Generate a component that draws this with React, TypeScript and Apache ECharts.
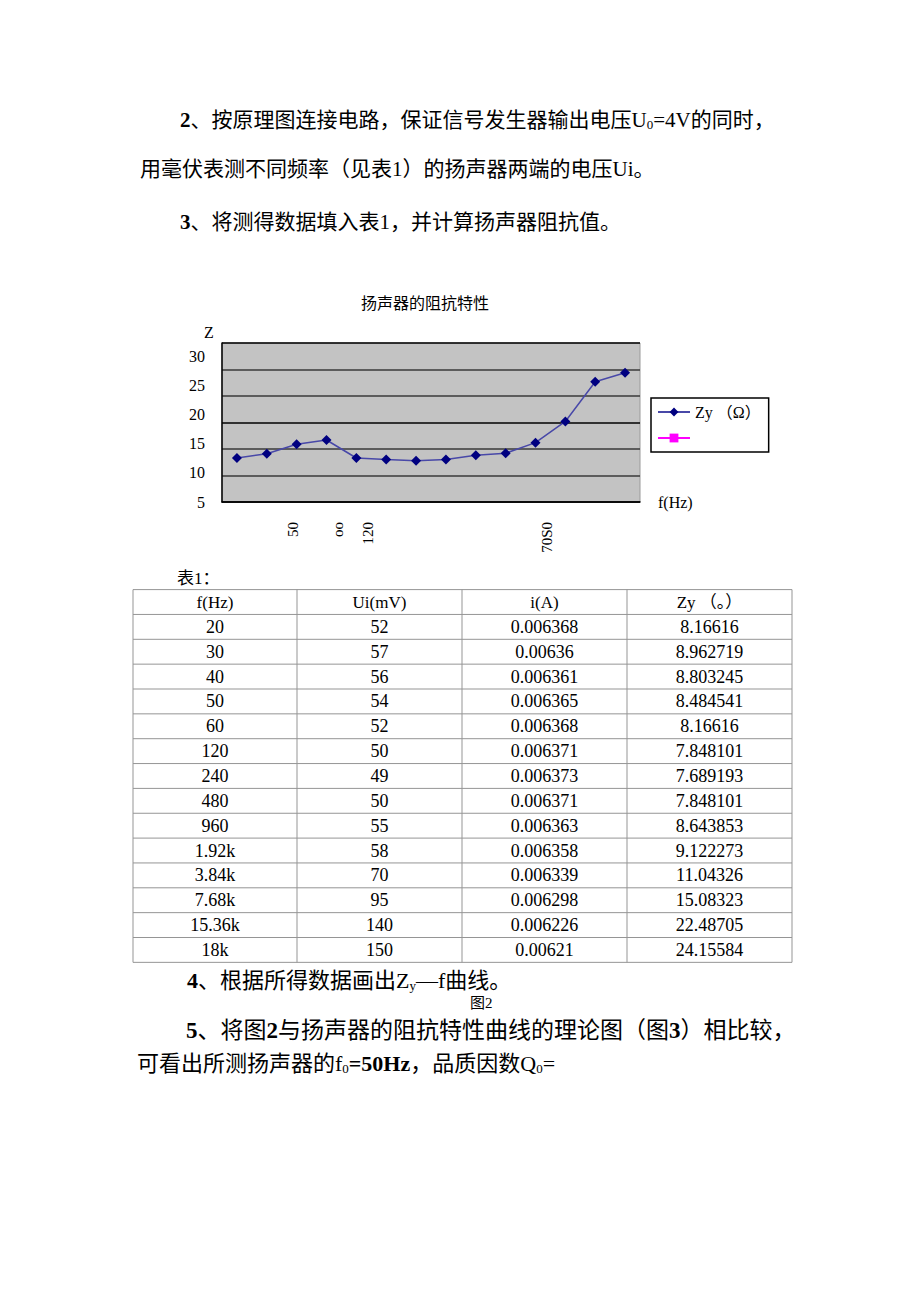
import React, { useEffect, useRef } from "react";
import * as echarts from "echarts";

// ---------- data ----------
const chartTitle = "扬声器的阻抗特性";
const categories = ["20", "30", "40", "50", "60", "120", "240", "480", "960", "1.92k", "3.84k", "7.68k", "15.36k", "18k"];
const zValues = [13.3, 14.1, 15.9, 16.7, 13.3, 13.0, 12.8, 13.0, 13.8, 14.2, 16.2, 20.2, 27.7, 29.4];
const seriesName = "Zy （Ω）";
const emptySeriesName = " ";
// garbled rotated tick labels as they appear on the page
const xTickText = ["50", "oo", "120", "70S0"];
const xTickSlot = [9, 15, 19, 43]; // quarter-category slots
const xSlotCount = 56;

const tableHeader = ["f(Hz)", "Ui(mV)", "i(A)", "Zy （。）"];
const tFreq = ["20", "30", "40", "50", "60", "120", "240", "480", "960", "1.92k", "3.84k", "7.68k", "15.36k", "18k"];
const tUi = ["52", "57", "56", "54", "52", "50", "49", "50", "55", "58", "70", "95", "140", "150"];
const tI = ["0.006368", "0.00636", "0.006361", "0.006365", "0.006368", "0.006371", "0.006373", "0.006371", "0.006363", "0.006358", "0.006339", "0.006298", "0.006226", "0.00621"];
const tZy = ["8.16616", "8.962719", "8.803245", "8.484541", "8.16616", "7.848101", "7.689193", "7.848101", "8.643853", "9.122273", "11.04326", "15.08323", "22.48705", "24.15584"];

const serif = "'Liberation Serif','Noto Sans CJK SC',serif";
const cjk = "'Noto Sans CJK SC','Liberation Serif',sans-serif";

function txt(x: number, y: number, text: string, size: number, extra: any = {}) {
  return {
    type: "text",
    x,
    y,
    silent: true,
    style: {
      text,
      fill: "#000",
      fontSize: size,
      fontFamily: serif,
      align: extra.align || "left",
      textAlign: extra.align || "left",
      verticalAlign: "middle",
      textVerticalAlign: "middle",
      rich: {
        sub: { fontSize: Math.round(size * 0.6), fontFamily: serif, fill: "#000", padding: [Math.round(size * 0.45), 0, 0, 0] },
        b: { fontSize: size, fontFamily: serif, fontWeight: "bold", fill: "#000" },
      },
    },
  };
}

function buildGraphics() {
  const g: any[] = [];
  g.push(txt(180, 120, "{b|2}、按原理图连接电路，保证信号发生器输出电压U{sub|0}=4V的同时，", 21));
  g.push(txt(140, 169, "用毫伏表测不同频率（见表1）的扬声器两端的电压Ui。", 21));
  g.push(txt(180, 222, "{b|3}、将测得数据填入表1，并计算扬声器阻抗值。", 21));
  g.push(txt(177, 578, "表1：", 17));

  // table
  const left = 133, right = 792, top = 589.6, rowH = 24.85;
  const cols = [133, 297, 462, 627, 792];
  const nRows = tFreq.length + 1;
  const lineStyle = { stroke: "#959595", lineWidth: 1 };
  for (let r = 0; r <= nRows; r++) {
    const y = top + r * rowH;
    g.push({ type: "line", silent: true, shape: { x1: left, y1: y, x2: right, y2: y }, style: lineStyle });
  }
  for (const c of cols) {
    g.push({ type: "line", silent: true, shape: { x1: c, y1: top, x2: c, y2: top + nRows * rowH }, style: lineStyle });
  }
  const colData = [tFreq, tUi, tI, tZy];
  for (let c = 0; c < 4; c++) {
    const cx = (cols[c] + cols[c + 1]) / 2;
    g.push(txt(cx, top + rowH / 2, tableHeader[c], 17, { align: "center" }));
    for (let r = 0; r < colData[c].length; r++) {
      g.push(txt(cx, top + rowH * (r + 1.5), colData[c][r], 18, { align: "center" }));
    }
  }

  g.push(txt(187, 980, "{b|4}、根据所得数据画出Z{sub|y}—f曲线。", 22));
  g.push(txt(470, 1003, "图2", 15));
  g.push(txt(186, 1030, "{b|5}、将图{b|2}与扬声器的阻抗特性曲线的理论图（图{b|3}）相比较，", 23));
  g.push(txt(137, 1063, "可看出所测扬声器的f{sub|0}{b|=50Hz}，品质因数Q{sub|0}=", 22));
  return g;
}

export default function App() {
  const ref = useRef<HTMLDivElement>(null);
  useEffect(() => {
    document.body.style.margin = "0";
    if (!ref.current) return;
    const chart = echarts.init(ref.current, null, { renderer: "svg" });
    const slots = Array.from({ length: xSlotCount }, (_, i) => String(i));
    const option: any = {
      animation: false,
      backgroundColor: "#ffffff",
      title: {
        text: chartTitle,
        left: 356,
        top: 289,
        textStyle: { fontSize: 16, fontWeight: "normal", fontFamily: cjk, color: "#000" },
      },
      legend: {
        orient: "vertical",
        left: 651,
        top: 398,
        padding: [6, 8, 6, 6],
        itemGap: 10,
        itemWidth: 32,
        itemHeight: 11,
        borderColor: "#000",
        borderWidth: 1.5,
        backgroundColor: "#fff",
        data: [seriesName, emptySeriesName],
        textStyle: { fontSize: 16, fontFamily: serif, color: "#000" },
      },
      grid: {
        left: 222,
        top: 343,
        width: 418,
        height: 159,
        show: true,
        backgroundColor: "#c3c3c3",
        borderColor: "#9a9a9a",
        borderWidth: 1,
      },
      xAxis: [
        {
          type: "category",
          data: categories,
          boundaryGap: true,
          axisLine: { lineStyle: { color: "#000", width: 1.5 } },
          axisTick: { inside: true, length: 7, lineStyle: { color: "#000", width: 1 } },
          axisLabel: { show: false },
          splitLine: { show: false },
          name: "f(Hz)",
          nameLocation: "end",
          nameGap: 18,
          nameTextStyle: { fontSize: 16, fontFamily: serif, color: "#000", padding: [36, 0, 0, 0] },
        },
        {
          type: "category",
          data: slots,
          position: "bottom",
          boundaryGap: true,
          axisLine: { show: false },
          axisTick: { show: false },
          splitLine: { show: false },
          axisLabel: {
            interval: 0,
            rotate: 90,
            margin: 20,
            fontSize: 15,
            fontFamily: serif,
            color: "#000",
            formatter: (_v: string, idx: number) => {
              const k = xTickSlot.indexOf(idx);
              return k >= 0 ? xTickText[k] : "";
            },
          },
        },
      ],
      yAxis: [
        {
          type: "value",
          min: 5,
          max: 35,
          interval: 5,
          axisLine: { show: true, lineStyle: { color: "#000", width: 1.5 } },
          axisTick: { show: false },
          axisLabel: { show: false },
          splitLine: {
            show: true,
            lineStyle: { color: ["#000", "#3a3a3a", "#3a3a3a", "#000", "#3a3a3a", "#3a3a3a", "#000"], width: 1.5 },
          },
        },
        {
          type: "value",
          min: 5,
          max: 32.37,
          interval: 5,
          position: "left",
          axisLine: { show: false },
          axisTick: { show: false },
          splitLine: { show: false },
          axisLabel: { margin: 17, fontSize: 16, fontFamily: serif, color: "#000", showMaxLabel: false },
          name: "Z",
          nameLocation: "end",
          nameGap: 3,
          nameTextStyle: { fontSize: 16, fontFamily: serif, color: "#000", padding: [0, 26, 0, 0] },
        },
      ],
      series: [
        {
          name: seriesName,
          type: "line",
          xAxisIndex: 0,
          yAxisIndex: 0,
          data: zValues,
          symbol: "diamond",
          symbolSize: 10,
          itemStyle: { color: "#000080" },
          lineStyle: { color: "#4848a8", width: 1.5 },
        },
        {
          name: emptySeriesName,
          type: "line",
          xAxisIndex: 0,
          yAxisIndex: 0,
          data: [],
          symbol: "rect",
          symbolSize: 9,
          itemStyle: { color: "#ff00ff" },
          lineStyle: { color: "#ff00ff", width: 1.5 },
        },
      ],
      graphic: buildGraphics(),
    };
    chart.setOption(option);
    return () => chart.dispose();
  }, []);
  return <div ref={ref} style={{ width: 920, height: 1302, background: "#fff" }} />;
}
